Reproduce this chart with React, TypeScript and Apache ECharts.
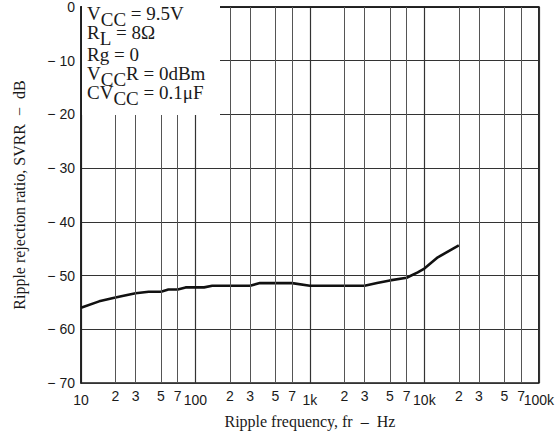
import { useEffect, useRef } from "react";
import * as echarts from "echarts";

// Ripple rejection vs. ripple frequency
const FREQ_HZ = [10, 14.4, 20, 23, 30, 39, 50, 58, 70, 82, 119, 140, 300, 366, 700, 1000, 3000, 3860, 5000, 7000, 8750, 10000, 13100, 20000];
const SVRR_DB = [-56.0, -54.8, -54.1, -53.8, -53.3, -53.0, -53.0, -52.6, -52.6, -52.2, -52.2, -51.9, -51.9, -51.4, -51.4, -51.9, -51.9, -51.4, -50.9, -50.4, -49.4, -48.7, -46.6, -44.4];

// Intermediate grid lines within each decade (labelled with their leading digit)
const MINOR_TICKS_HZ = [20, 30, 50, 70, 200, 300, 500, 700, 2000, 3000, 5000, 7000, 20000, 30000, 50000, 70000];

// Test conditions
const CONDITIONS = [
  "V{s|CC} = 9.5V",
  "R{s|L} = 8Ω",
  "Rg = 0",
  "V{s|CC}R = 0dBm",
  "CV{s|CC} = 0.1μF",
];

const SANS = "Liberation Sans";
const SERIF = "Liberation Serif";
const INK = "#1a1a1a";

export default function App() {
  const ref = useRef<HTMLDivElement>(null);

  useEffect(() => {
    document.body.style.margin = "0";
    const chart = echarts.init(ref.current!, null, { renderer: "svg" });

    const decadeLabel = (v: number) => (v >= 1000 ? `${v / 1000}k` : String(v));
    const leadingDigit = (v: number) =>
      String(Math.round(v / Math.pow(10, Math.floor(Math.log10(v) + 1e-9))));

    const lineYs = [13, 32, 54.5, 73.3, 92];

    chart.setOption({
      animation: false,
      backgroundColor: "#ffffff",
      grid: {
        left: 81,
        right: 13,
        top: 1,
        bottom: 50,
        show: true,
        borderColor: INK,
        borderWidth: 1.5,
        backgroundColor: "transparent",
      },
      xAxis: {
        type: "log",
        logBase: 10,
        min: 10,
        max: 100000,
        name: "Ripple frequency, fr  –  Hz",
        nameLocation: "middle",
        nameGap: 30,
        nameTextStyle: { fontFamily: SERIF, fontSize: 16, color: INK },
        axisLine: { show: true, lineStyle: { color: INK, width: 1.5 } },
        axisTick: { show: false },
        axisLabel: {
          formatter: decadeLabel,
          fontFamily: SANS,
          fontSize: 14,
          color: INK,
          margin: 10,
        },
        splitLine: { show: true, lineStyle: { color: "#333", width: 1.2 } },
      },
      yAxis: {
        type: "value",
        min: -70,
        max: 0,
        interval: 10,
        name: "Ripple rejection ratio, SVRR  −  dB",
        nameLocation: "middle",
        nameGap: 54,
        nameTextStyle: { fontFamily: SERIF, fontSize: 16, color: INK },
        axisLine: { show: true, lineStyle: { color: INK, width: 1.5 } },
        axisTick: { show: false },
        axisLabel: {
          formatter: (v: number) => (v === 0 ? "0" : `− ${Math.abs(v)}`),
          fontFamily: SANS,
          fontSize: 14,
          color: INK,
          margin: 6,
        },
        splitLine: { show: true, lineStyle: { color: "#333", width: 1 } },
      },
      series: [
        {
          type: "line",
          data: FREQ_HZ.map((f, i) => [f, SVRR_DB[i]]),
          symbol: "none",
          lineStyle: { color: "#111", width: 2.6 },
          z: 3,
          markLine: {
            silent: true,
            symbol: ["none", "none"],
            animation: false,
            lineStyle: { color: "#555", width: 1, type: "solid" },
            emphasis: { disabled: true },
            label: {
              show: true,
              position: "start",
              distance: 6,
              formatter: (p: any) => leadingDigit(p.value),
              fontFamily: SANS,
              fontSize: 14,
              color: INK,
            },
            data: MINOR_TICKS_HZ.map((v) => ({ xAxis: v })),
          },
        },
      ],
      graphic: [
        {
          type: "rect",
          z: 10,
          shape: { x: 82, y: 2, width: 138, height: 113 },
          style: { fill: "#ffffff" },
        },
        ...CONDITIONS.map((t, i) => ({
          type: "text",
          z: 11,
          x: 87,
          y: lineYs[i],
          style: {
            text: t,
            fontFamily: SERIF,
            fontSize: 19,
            lineHeight: 18,
            fill: INK,
            verticalAlign: "middle",
            align: "left",
            rich: {
              s: { fontFamily: SERIF, fontSize: 19, fill: INK, lineHeight: 6, padding: [12, 0, 0, 0] },
            },
          },
        })),
      ],
    });

    return () => chart.dispose();
  }, []);

  return <div ref={ref} style={{ width: 557, height: 434 }} />;
}
